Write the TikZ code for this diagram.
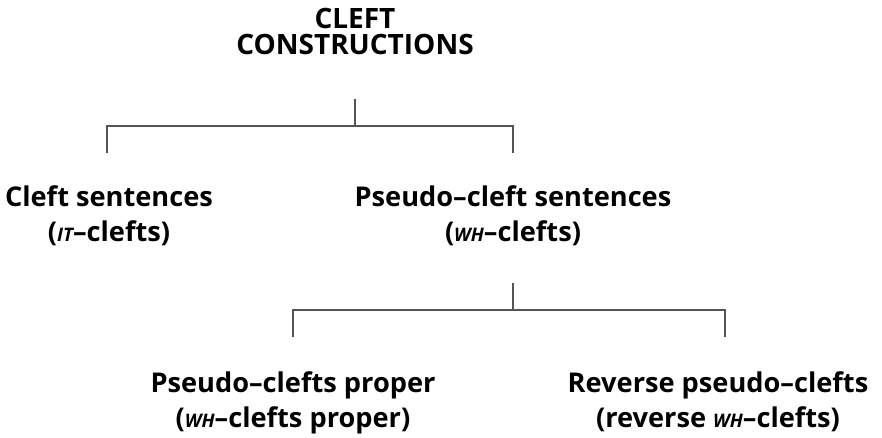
\documentclass[tikz,border=0pt]{standalone}
\usepackage{fontspec}
\setmainfont{Open Sans}
\usetikzlibrary{positioning}
\definecolor{linegray}{HTML}{555555}
\newcommand{\sci}[1]{{\itshape\fontsize{14}{14}\selectfont #1}}
\tikzset{
	label/.style={align=center, inner sep=0pt, anchor=base,
		font=\bfseries\fontsize{20.4}{26.25}\selectfont},
	title/.style={align=center, inner sep=0pt, anchor=base,
		font=\bfseries\fontsize{21}{19.5}\selectfont},
	branch/.style={draw=linegray, line width=1.1pt}
}

\begin{document}
\begin{tikzpicture}[x=0.75pt, y=-0.75pt]
	\useasboundingbox (0,0) rectangle (882,438);

	% the labels (base = baseline of the last line)
	\node[title] (top)    at (355, 55) {CLEFT\\CONSTRUCTIONS};
	\node[label] (cleft)  at (109,242) {Cleft sentences\\(\sci{IT}–clefts)};
	\node[label] (pseudo) at (513,242) {Pseudo–cleft sentences\\(\sci{WH}–clefts)};
	\node[label] (proper) at (293,427) {Pseudo–clefts proper\\(\sci{WH}–clefts proper)};
	\node[label] (rev)    at (718,427) {Reverse pseudo–clefts\\(reverse \sci{WH}–clefts)};

	% branching points
	\coordinate (top-s)    at (355, 99);
	\coordinate (top-j)    at (355,126);
	\coordinate (cleft-n)  at (107,153);
	\coordinate (pseudo-n) at (513,153);
	\coordinate (pseudo-s) at (513,283);
	\coordinate (pseudo-j) at (513,310);
	\coordinate (proper-n) at (293,337);
	\coordinate (rev-n)    at (725,337);

	\draw[branch] (top-s) -- (top-j);
	\draw[branch] (cleft-n) |- (top-j) -| (pseudo-n);
	\draw[branch] (pseudo-s) -- (pseudo-j);
	\draw[branch] (proper-n) |- (pseudo-j) -| (rev-n);

\end{tikzpicture}
\end{document}
